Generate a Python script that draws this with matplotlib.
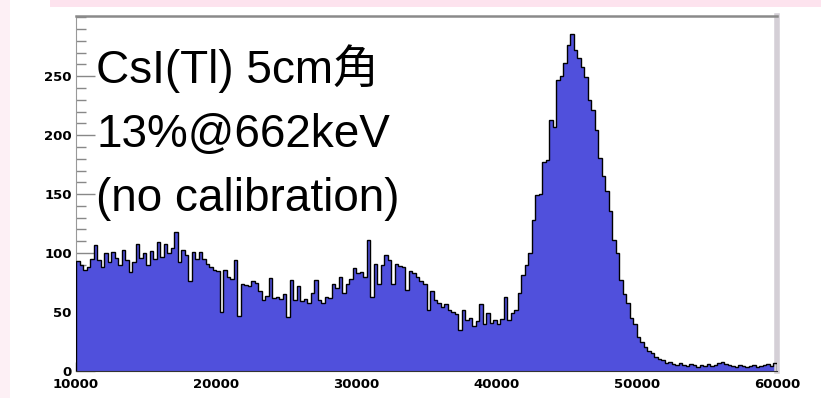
import numpy as np
import matplotlib
matplotlib.use('Agg')
import matplotlib.pyplot as plt
from matplotlib.patches import Rectangle
from matplotlib.ticker import MultipleLocator

# 直方图数据 (bin 宽 250, 10000 - 60000)
bin_edges = np.arange(10000, 60001, 250)
counts = [
    93, 90, 86, 88, 95, 107, 94, 88, 100, 92, 101, 96, 90, 103, 94, 84, 92, 108, 96, 100,
    90, 102, 95, 109, 97, 108, 100, 104, 118, 92, 103, 98, 76, 101, 95, 101, 95, 91, 88, 86,
    85, 50, 86, 80, 78, 94, 47, 74, 73, 72, 76, 75, 68, 60, 64, 79, 62, 63, 61, 65,
    46, 77, 60, 72, 59, 61, 58, 66, 77, 60, 58, 63, 62, 74, 70, 80, 66, 74, 78, 87,
    83, 84, 80, 111, 63, 91, 74, 90, 98, 94, 74, 91, 89, 88, 69, 85, 83, 80, 76, 74,
    52, 68, 60, 58, 54, 57, 52, 50, 48, 35, 52, 43, 45, 38, 42, 57, 40, 49, 41, 43,
    40, 44, 63, 43, 49, 52, 66, 81, 90, 100, 128, 149, 150, 177, 179, 213, 207, 247, 250, 261,
    276, 286, 272, 265, 258, 249, 230, 221, 204, 181, 165, 153, 136, 111, 100, 77, 65, 58, 45, 40,
    29, 25, 20, 17, 15, 12, 10, 9, 7, 8, 6, 5, 7, 5, 4, 6, 5, 3, 5, 4,
    6, 4, 5, 7, 8, 6, 5, 4, 3, 5, 4, 3, 4, 5, 3, 4, 5, 6, 4, 7,
]
x_ticks = [10000, 20000, 30000, 40000, 50000, 60000]
y_ticks = [0, 50, 100, 150, 200, 250]
label_lines = ['CsI(Tl) 5cm角', '13%@662keV', '(no calibration)']

W, H = 821, 398
fig = plt.figure(figsize=(W / 100, H / 100), dpi=100)
fig.patch.set_facecolor('white')

# 背景的粉色边
fig.patches.append(Rectangle((50 / W, 1 - 7 / H), 1, 7 / H, transform=fig.transFigure,
                             facecolor='#fde3ee', edgecolor='none', zorder=0))
fig.patches.append(Rectangle((0, 0), 10 / W, 1, transform=fig.transFigure,
                             facecolor='#fdf0f5', edgecolor='none', zorder=0))

ax = fig.add_axes([76 / W, 27 / H, 701 / W, 355 / H])
ax.stairs(counts, bin_edges, fill=True, color='#5050dc', zorder=2)
ax.stairs(counts, bin_edges, color='black', linewidth=1.0, zorder=3)

ax.set_xlim(10000, 60000)
ax.set_ylim(0, 301)
ax.set_xticks(x_ticks)
ax.set_yticks(y_ticks)
ax.xaxis.set_minor_locator(MultipleLocator(2000))
ax.yaxis.set_minor_locator(MultipleLocator(10))

ax.tick_params(axis='y', which='major', direction='in', length=14, width=1, color='#888888',
               labelsize=9.5, pad=3)
ax.tick_params(axis='y', which='minor', direction='in', length=7, width=1, color='#888888')
ax.tick_params(axis='x', which='major', direction='in', length=6.5, width=1, color='#444444',
               labelsize=9.5, pad=5)
ax.tick_params(axis='x', which='minor', direction='in', length=3.5, width=1, color='#444444')
for lab in ax.get_xticklabels() + ax.get_yticklabels():
    lab.set_fontweight('bold')

ax.spines['top'].set_color('#8a8a8a')
ax.spines['top'].set_linewidth(1.8)
ax.spines['right'].set_color('#d4cfd6')
ax.spines['right'].set_linewidth(4)
ax.spines['left'].set_color('#999999')
ax.spines['bottom'].set_color('#333333')

# 大字说明
for i, line in enumerate(label_lines):
    fig.text(96 / W, 1 - (83 + 64 * i) / H, line, fontsize=33, va='baseline', ha='left',
             family=['Liberation Sans', 'Noto Sans CJK JP'])

fig.savefig('out.png', dpi=100)
